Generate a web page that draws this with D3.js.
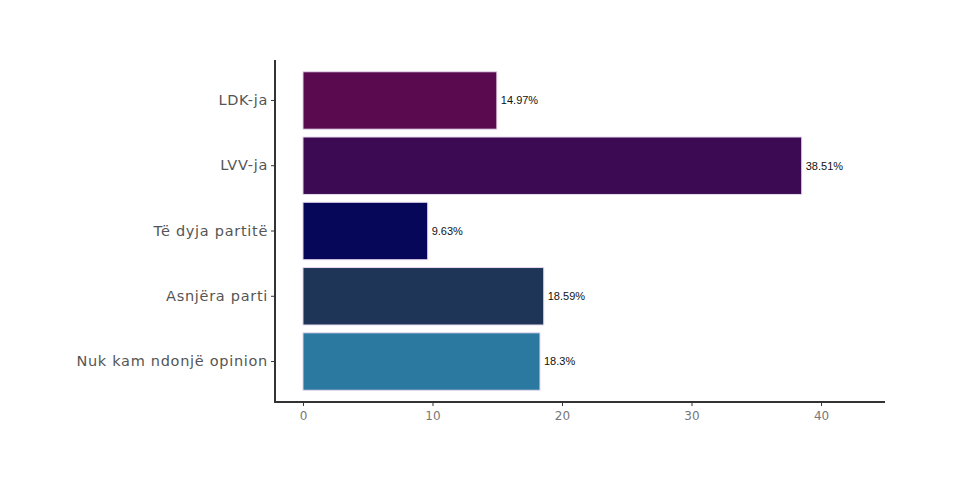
<!DOCTYPE html>
<html>
<head>
<meta charset="utf-8">
<script src="https://cdn.jsdelivr.net/npm/d3@7"></script>
<style>
  body { margin: 0; background: #fff; }
  svg { display: block; }
</style>
</head>
<body>
<svg id="chart" width="980" height="495"></svg>
<script>
// data
let categories = ["LDK-ja", "LVV-ja", "Të dyja partitë", "Asnjëra parti", "Nuk kam ndonjë opinion"];
let values = [14.97, 38.51, 9.63, 18.59, 18.3];
let labels = ["14.97%", "38.51%", "9.63%", "18.59%", "18.3%"];
let colors = ["#5a0b4f", "#3c0a52", "#07075a", "#1e3558", "#2b78a0"];
let xTicks = [0, 10, 20, 30, 40];

let svg = d3.select("#chart");

let pLeft = 275, pRight = 885, pTop = 60, pBottom = 402;

let x = d3.scaleLinear()
    .domain([-2.16, 44.94])
    .range([pLeft, pRight]);

let y = d3.scaleBand()
    .domain(categories)
    .range([pTop, pBottom])
    .paddingInner(0.12)
    .paddingOuter(0.18);

let data = categories.map(function(c, i) {
  return {cat: c, value: values[i], label: labels[i], color: colors[i]};
});

// bars
svg.append("g")
  .selectAll("rect")
  .data(data)
  .enter().append("rect")
    .attr("x", x(0))
    .attr("y", function(d) { return y(d.cat); })
    .attr("width", function(d) { return x(d.value) - x(0); })
    .attr("height", y.bandwidth())
    .attr("fill", function(d) { return d.color; })
    .style("stroke", "#e6d9ee")
    .style("stroke-width", 1);

// value labels
svg.append("g")
  .selectAll("text")
  .data(data)
  .enter().append("text")
    .attr("x", function(d) { return x(d.value) + 4; })
    .attr("y", function(d) { return y(d.cat) + y.bandwidth() / 2; })
    .attr("dy", "0.35em")
    .style("font-family", "Liberation Sans, Arial, sans-serif")
    .style("font-size", "11px")
    .style("fill", "#111")
    .text(function(d) { return d.label; });

// x axis
let xAxis = svg.append("g")
    .attr("transform", "translate(0," + pBottom + ")")
    .call(d3.axisBottom(x).tickValues(xTicks).tickSize(4).tickPadding(5).tickSizeOuter(0));
xAxis.select(".domain").attr("d", "M" + (pLeft - 1) + ",0H" + pRight)
    .style("stroke", "#333").style("stroke-width", 2);
xAxis.selectAll(".tick line").style("stroke", "#333");
xAxis.selectAll(".tick text")
    .style("font-family", "DejaVu Sans, sans-serif")
    .style("font-size", "12px")
    .style("fill", "#777");

// y axis
let yAxis = svg.append("g")
    .attr("transform", "translate(" + pLeft + ",0)")
    .call(d3.axisLeft(y).tickSize(4).tickPadding(3).tickSizeOuter(0));
yAxis.select(".domain").attr("d", "M0," + pTop + "V" + (pBottom + 1))
    .style("stroke", "#333").style("stroke-width", 2);
yAxis.selectAll(".tick line").style("stroke", "#333");
yAxis.selectAll(".tick text")
    .style("font-family", "DejaVu Sans, sans-serif")
    .style("font-size", "14.5px")
    .style("letter-spacing", "0.7px")
    .style("fill", "#555");
</script>
</body>
</html>
